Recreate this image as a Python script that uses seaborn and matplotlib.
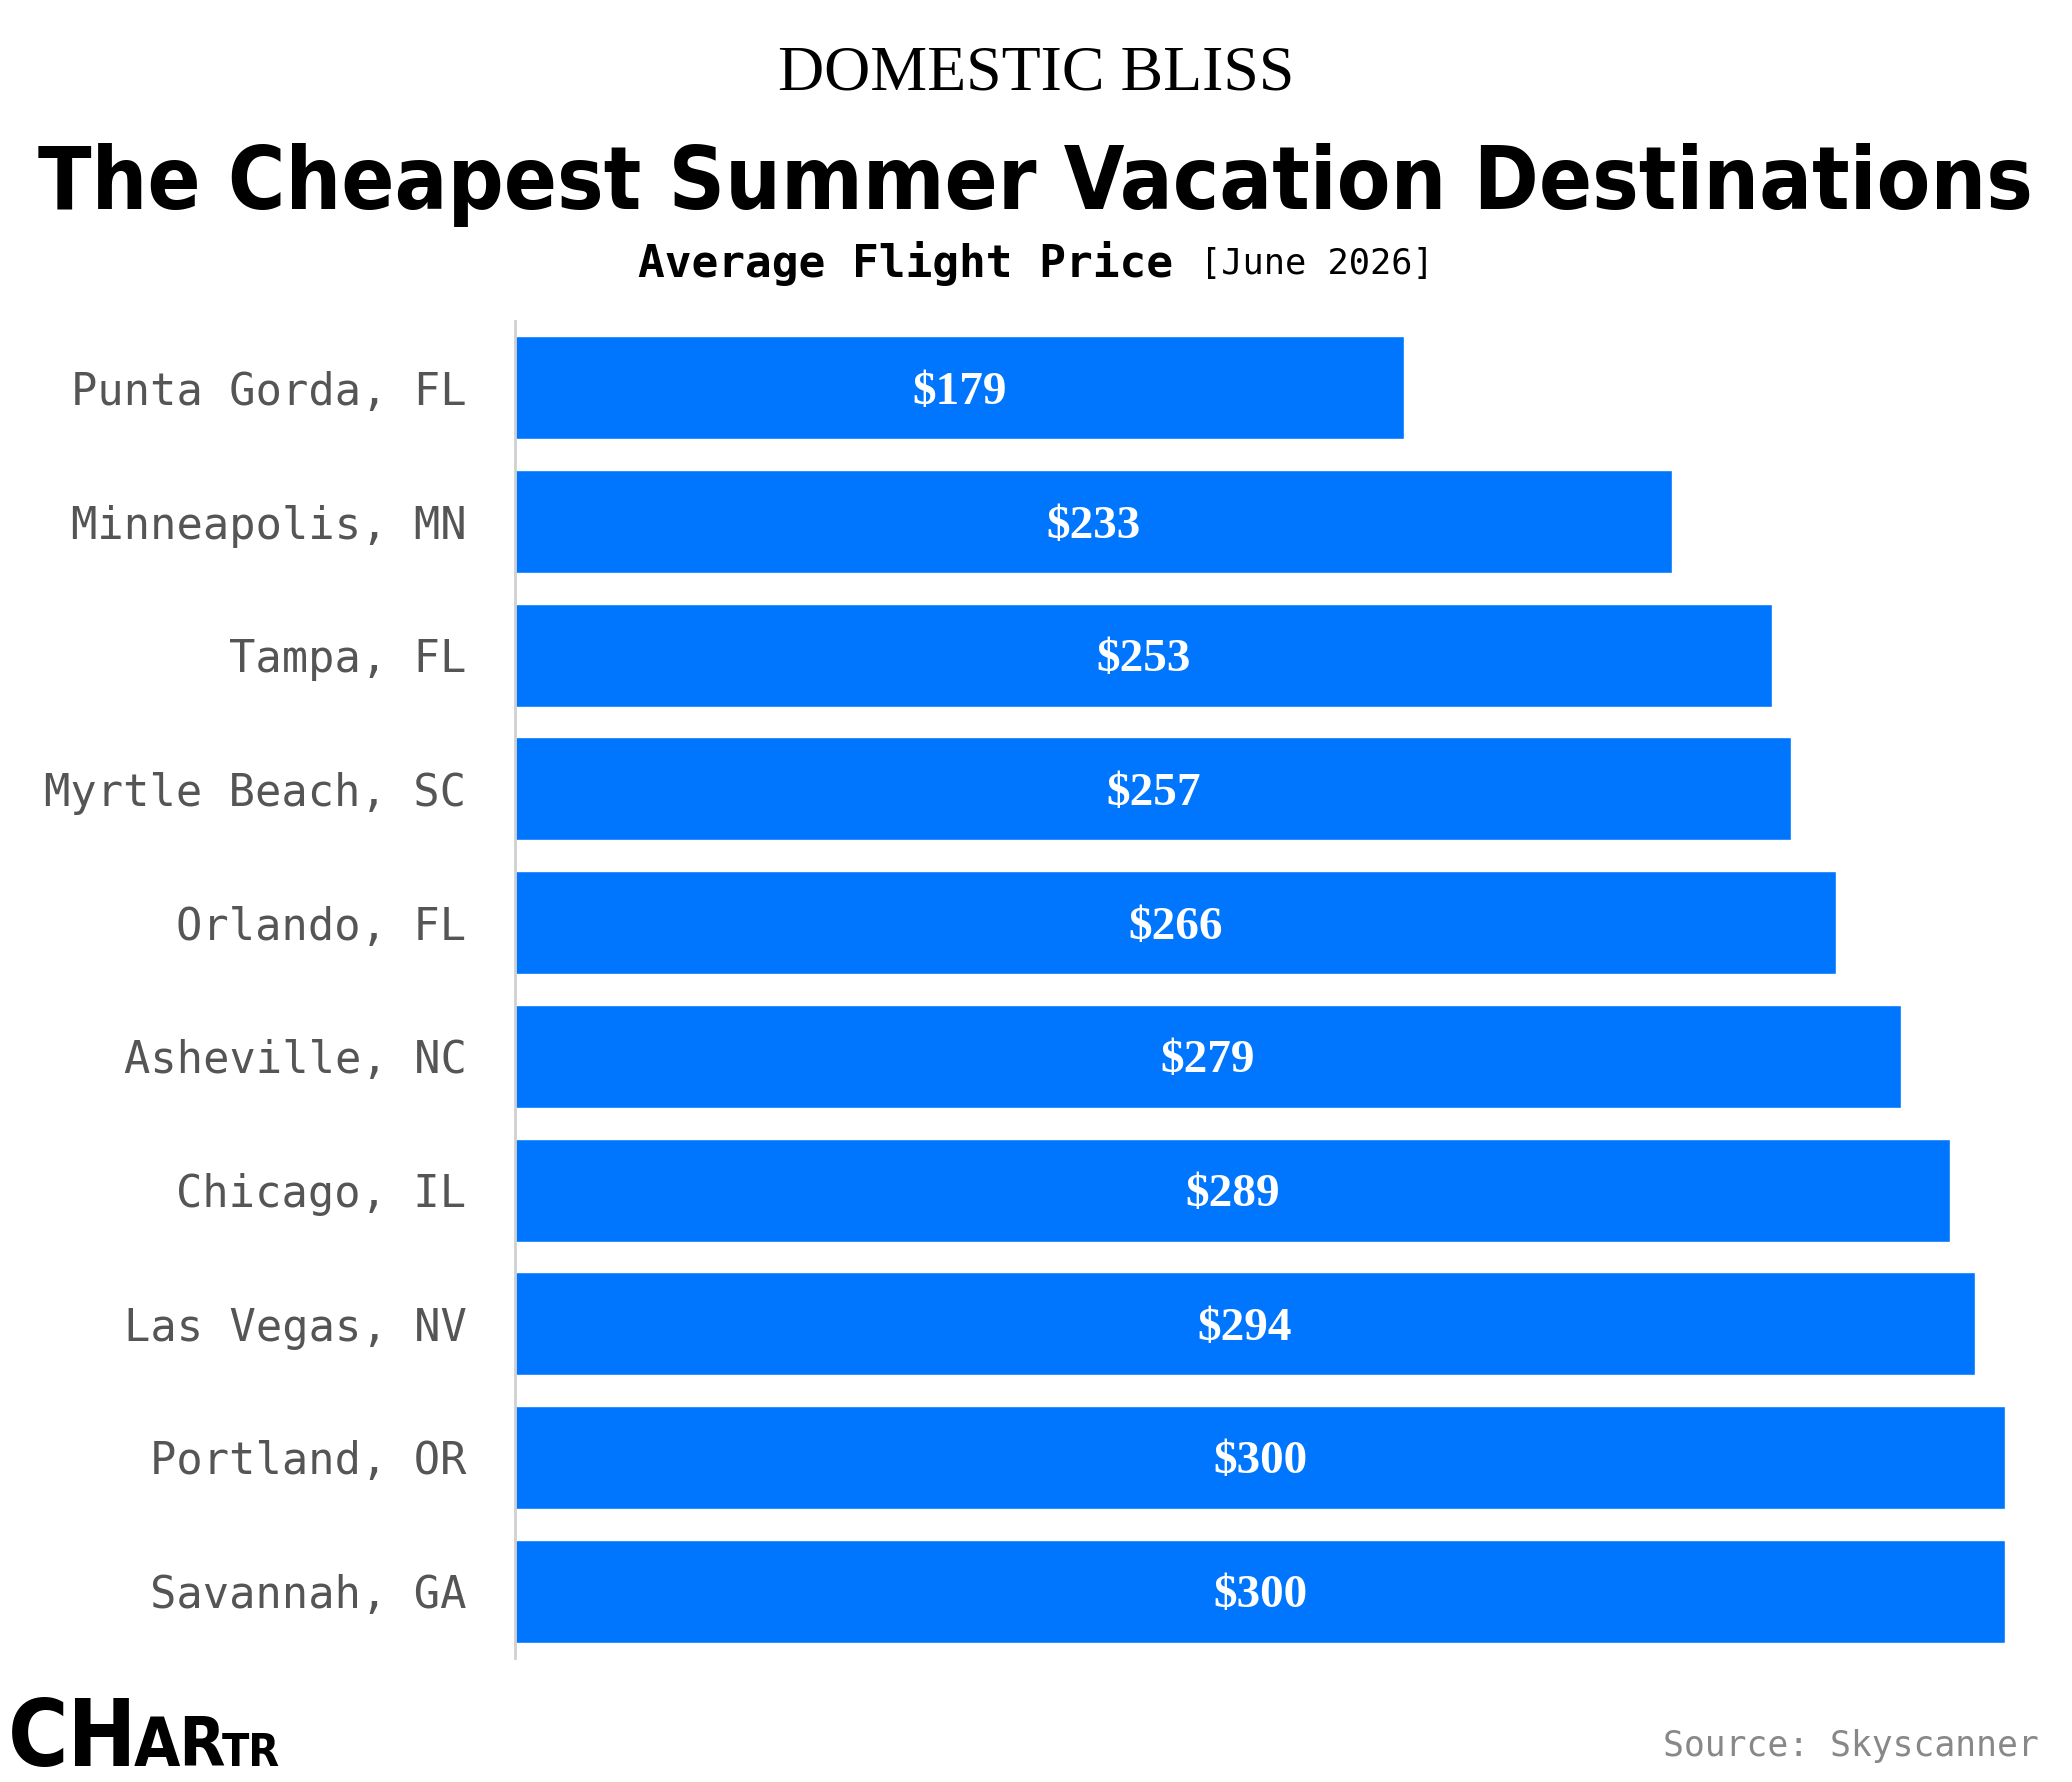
import matplotlib
matplotlib.use("Agg")
import matplotlib.pyplot as plt
from matplotlib import font_manager
import seaborn as sns
import pandas as pd

cities = ["Punta Gorda, FL", "Minneapolis, MN", "Tampa, FL", "Myrtle Beach, SC",
          "Orlando, FL", "Asheville, NC", "Chicago, IL", "Las Vegas, NV",
          "Portland, OR", "Savannah, GA"]
prices = [179, 233, 253, 257, 266, 279, 289, 294, 300, 300]
value_labels = [f"${p}" for p in prices]

supertitle = "DOMESTIC BLISS"
title = "The Cheapest Summer Vacation Destinations"
subtitle_bold = "Average Flight Price"
subtitle_light = "[June 2026]"
source = "Source: Skyscanner"

BLUE = "#0076FF"

sns.set_theme(style="white")
names = {f.name for f in font_manager.fontManager.ttflist}
narrow = "Liberation Sans Narrow" if "Liberation Sans Narrow" in names else "DejaVu Sans"
mono = "DejaVu Sans Mono"
serif = "Liberation Serif"

W, H = 2072, 1782
fig = plt.figure(figsize=(W / 100, H / 100), dpi=100)
fig.patch.set_facecolor("white")
ax = fig.add_axes([515 / W, 1 - 1658 / H, (2005 - 515) / W, (1658 - 321) / H])

df = pd.DataFrame({"city": cities, "price": prices})
sns.barplot(data=df, x="price", y="city", orient="h", color=BLUE, saturation=1,
            width=0.77, ax=ax)
ax.set_xlim(0, 300)
ax.set_ylim(9.5, -0.5)
ax.set_xlabel("")
ax.set_ylabel("")
ax.set_xticks([])
for s in ["top", "right", "bottom"]:
    ax.spines[s].set_visible(False)
ax.spines["left"].set_color("#d0d0d0")
ax.spines["left"].set_linewidth(2)
ax.tick_params(axis="y", length=0, pad=35)
for lab in ax.get_yticklabels():
    lab.set_fontfamily(mono)
    lab.set_fontsize(31.5)
    lab.set_color("#555555")

labs = ax.bar_label(ax.containers[0], labels=value_labels, label_type="center",
                    color="white", fontsize=34, fontweight="bold", fontfamily=serif)
for l in labs:
    l.set_verticalalignment("center_baseline")

# Titles
fig.text(0.5, 1 - 74 / H, supertitle, ha="center", va="center",
         fontsize=46, fontfamily=serif, color="black", fontstretch="condensed")
t = fig.text(0.5, 1 - 209 / H, title, ha="center", va="baseline",
             fontsize=80, fontweight="bold", fontfamily=narrow,
             fontstretch="condensed", color="black")
fig.canvas.draw()
r = fig.canvas.get_renderer()
bb = t.get_window_extent(r)
t.set_fontsize(80 * 1996 / bb.width)

fig.canvas.draw()
s1 = fig.text(0, 1 - 264 / H, subtitle_bold + " ", ha="left", va="center",
              fontsize=32, fontweight="bold", fontfamily=mono, color="black")
s2 = fig.text(0, 1 - 264 / H, subtitle_light, ha="left", va="center",
              fontsize=25.5, fontfamily=mono, color="black")
fig.canvas.draw()
w1 = s1.get_window_extent(r).width
w2 = s2.get_window_extent(r).width
x0 = (W - (w1 + w2)) / 2
s1.set_x(x0 / W)
s2.set_x((x0 + w1) / W)

fig.text(2039 / W, 1 - 1746 / H, source, ha="right", va="center",
         fontsize=25, fontfamily=mono, color="#888888")

# Logo
x = 8
parts = [("CH", 66), ("AR", 48), ("TR", 32)]
base = 1 - 1766 / H
for txt, fs in parts:
    tt = fig.text(x / W, base, txt, ha="left", va="baseline", fontsize=fs,
                  fontweight="heavy", fontfamily=narrow, fontstretch="condensed",
                  color="black")
    fig.canvas.draw()
    x += tt.get_window_extent(r).width - 4

fig.savefig("out.png", dpi=100, facecolor="white")
